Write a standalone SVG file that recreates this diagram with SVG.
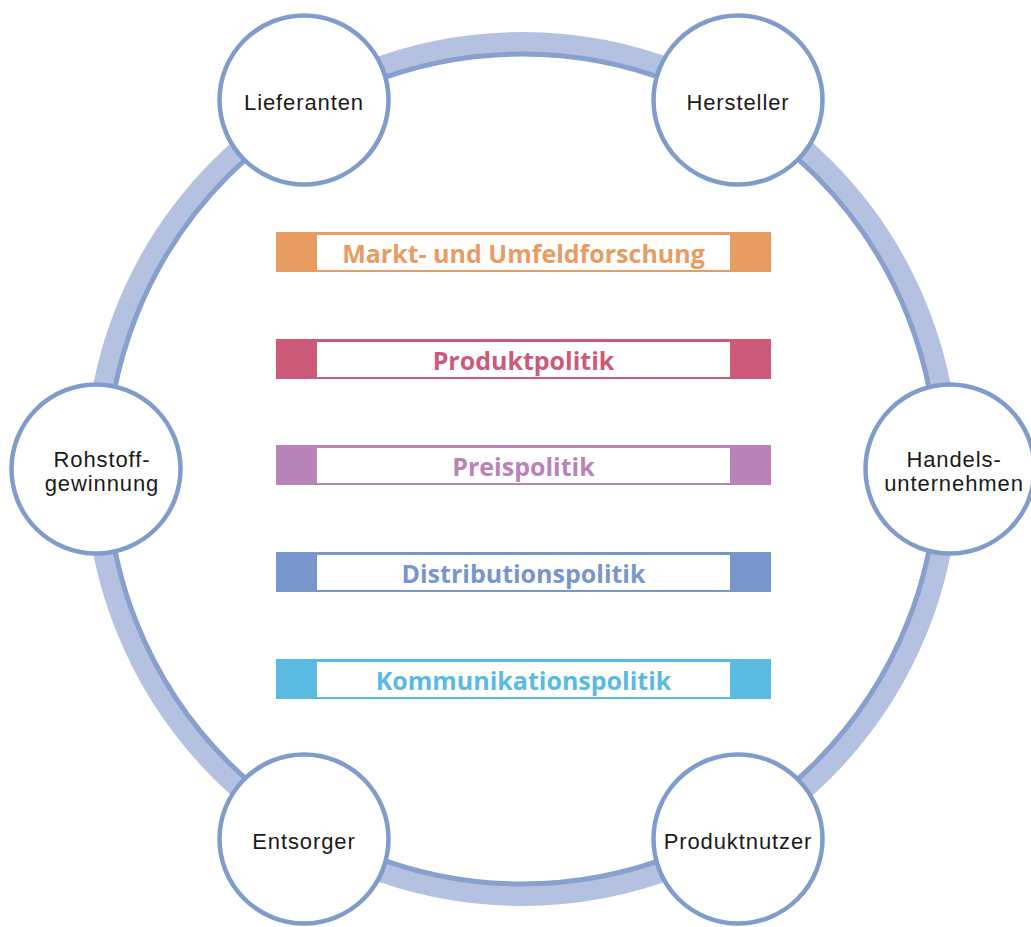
<svg xmlns="http://www.w3.org/2000/svg" width="1031" height="927" viewBox="0 0 1031 927">
  <style>
    .node circle { fill: #ffffff; stroke: #7f9ccb; stroke-width: 4.5; }
    .node text { font-family: "Liberation Sans", Arial, sans-serif; font-size: 22px; letter-spacing: 0.9px; fill: #1a1a1a; text-anchor: middle; }
    .bar .inner { fill: #ffffff; }
    .bar text { font-family: "Open Sans", "Noto Sans", sans-serif; font-weight: 700; font-size: 25px; text-anchor: middle; }
  </style>

  <rect width="1031" height="927" fill="#ffffff"/>

  <!-- ring connecting the six stations -->
  <g id="connectors">
    <circle cx="522" cy="469" r="425" fill="none" stroke="#b5c1e0" stroke-width="24"/>
    <circle cx="522" cy="469" r="415" fill="none" stroke="#87a0ce" stroke-width="5"/>
  </g>

  <!-- stations -->
  <g id="lieferanten" class="node">
    <circle cx="304" cy="100" r="84.5"/>
    <text x="304" y="110">Lieferanten</text>
  </g>
  <g id="hersteller" class="node">
    <circle cx="738" cy="100" r="84.5"/>
    <text x="738" y="110">Hersteller</text>
  </g>
  <g id="rohstoffgewinnung" class="node">
    <circle cx="96" cy="469" r="84.5"/>
    <text x="102" y="467">Rohstoff-</text>
    <text x="102" y="491">gewinnung</text>
  </g>
  <g id="handelsunternehmen" class="node">
    <circle cx="950" cy="469" r="84.5"/>
    <text x="954" y="467">Handels-</text>
    <text x="954" y="491">unternehmen</text>
  </g>
  <g id="entsorger" class="node">
    <circle cx="304" cy="839" r="84.5"/>
    <text x="304" y="849">Entsorger</text>
  </g>
  <g id="produktnutzer" class="node">
    <circle cx="738" cy="839" r="84.5"/>
    <text x="738" y="849">Produktnutzer</text>
  </g>

  <!-- marketing instruments -->
  <g id="markt" class="bar">
    <rect x="276" y="232" width="495" height="40" fill="#e89c62"/>
    <rect class="inner" x="317" y="235" width="413" height="35"/>
    <text x="523.5" y="263" fill="#e89c62">Markt- und Umfeldforschung</text>
  </g>
  <g id="produktpolitik" class="bar">
    <rect x="276" y="339" width="495" height="40" fill="#cc5a78"/>
    <rect class="inner" x="317" y="342" width="413" height="35"/>
    <text x="523.5" y="370" fill="#cc5a78">Produktpolitik</text>
  </g>
  <g id="preispolitik" class="bar">
    <rect x="276" y="445" width="495" height="40" fill="#b883b8"/>
    <rect class="inner" x="317" y="448" width="413" height="35"/>
    <text x="523.5" y="476" fill="#b883b8">Preispolitik</text>
  </g>
  <g id="distributionspolitik" class="bar">
    <rect x="276" y="552" width="495" height="40" fill="#7796cb"/>
    <rect class="inner" x="317" y="555" width="413" height="35"/>
    <text x="523.5" y="583" fill="#7796cb">Distributionspolitik</text>
  </g>
  <g id="kommunikationspolitik" class="bar">
    <rect x="276" y="659" width="495" height="40" fill="#5bbae2"/>
    <rect class="inner" x="317" y="662" width="413" height="35"/>
    <text x="523.5" y="690" fill="#5bbae2">Kommunikationspolitik</text>
  </g>
</svg>
